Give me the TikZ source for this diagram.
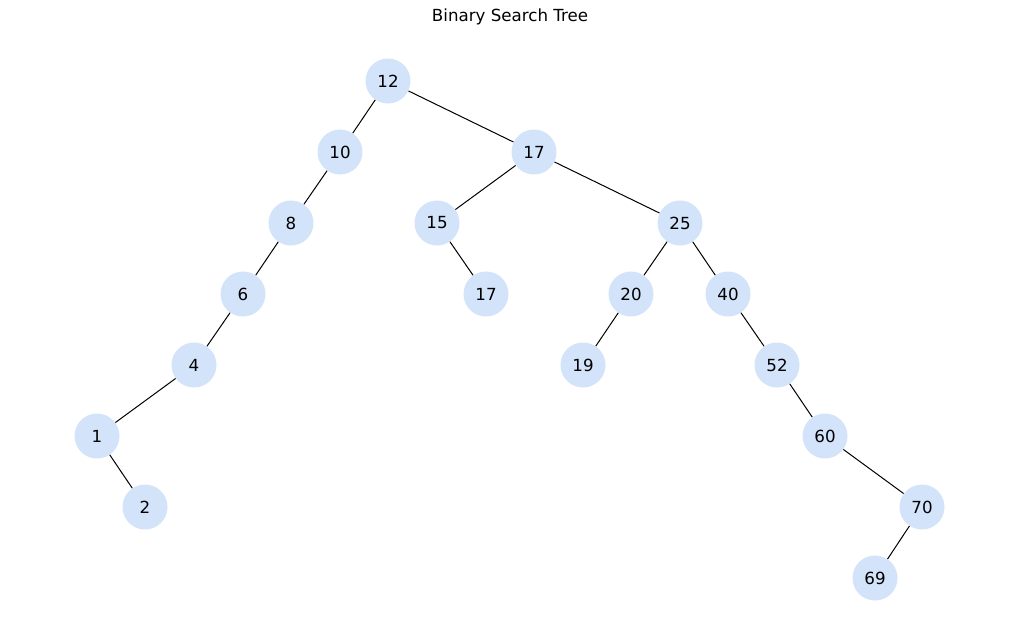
\documentclass[tikz,border=0pt]{standalone}
\usepackage{fontspec}
\setmainfont{DejaVu Sans}
\definecolor{nodeblue}{HTML}{D2E3FA}
\tikzset{
  bst/.style={circle, fill=nodeblue, minimum size=32.4pt, inner sep=0pt, font=\fontsize{12}{14}\selectfont},
  link/.style={draw=black, line width=0.72pt}
}

\begin{document}
\begin{tikzpicture}[x=0.72pt, y=-0.72pt]
	\useasboundingbox (0,0) rectangle (1019,640);
	\node[font=\fontsize{12}{14}\selectfont] (title) at (510,17) {Binary Search Tree};

	\node[bst] (n12) at (388,81) {12};
	\node[bst] (n10) at (340,152) {10};
	\node[bst] (n17a) at (534,152) {17};
	\node[bst] (n8) at (291,223) {8};
	\node[bst] (n15) at (437,223) {15};
	\node[bst] (n25) at (680,223) {25};
	\node[bst] (n6) at (243,294) {6};
	\node[bst] (n17b) at (486,294) {17};
	\node[bst] (n20) at (631,294) {20};
	\node[bst] (n40) at (728,294) {40};
	\node[bst] (n4) at (194,365) {4};
	\node[bst] (n19) at (583,365) {19};
	\node[bst] (n52) at (777,365) {52};
	\node[bst] (n1) at (97,436) {1};
	\node[bst] (n60) at (825,436) {60};
	\node[bst] (n2) at (145,507) {2};
	\node[bst] (n70) at (922,507) {70};
	\node[bst] (n69) at (875,578) {69};

	\foreach \a/\b in {n12/n10, n12/n17a, n10/n8, n8/n6, n6/n4, n4/n1, n1/n2,
	                   n17a/n15, n17a/n25, n15/n17b, n25/n20, n25/n40, n20/n19,
	                   n40/n52, n52/n60, n60/n70, n70/n69}
		\draw[link] (\a) -- (\b);
\end{tikzpicture}
\end{document}
